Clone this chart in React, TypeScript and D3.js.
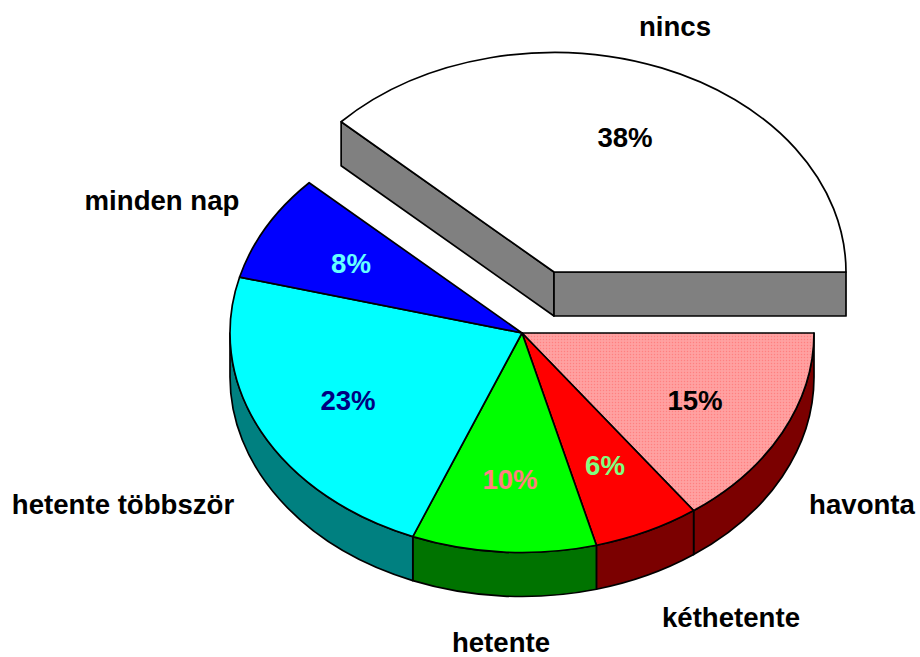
import React from "react";
import * as d3 from "d3";

const categories = ["havonta", "kéthetente", "hetente", "hetente többször", "minden nap", "nincs"];
const values = [15, 5.9, 10.2, 23, 7.9, 38];
const percentLabels = ["15%", "6%", "10%", "23%", "8%", "38%"];
const topColors = ["url(#dots)", "#ff0000", "#00ff00", "#00ffff", "#0000ff", "#ffffff"];
const wallColors = ["#7b0000", "#7b0000", "#007300", "#008080", "#00007b", "#808080"];
const percentColors = ["#000000", "#80ff80", "#ff8080", "#000080", "#66ffff", "#000000"];
const explodedIndex = 5;

const W = 920, H = 657;
const cx = 522, cy = 333, rx = 292, ry = 219.5, depth = 44;
const explodeDx = 32, explodeDy = -61;

// anchor points of the texts [x, y] (baseline centre)
const nameAt: [number, number][] = [[862, 514], [731, 627], [501, 652], [123, 514], [162, 210], [675, 36]];
const pctAt: [number, number][] = [[695, 410], [605, 475], [510, 489], [348, 410], [351, 273], [625, 147]];

const slices = d3.pie<number>().sort(null).startAngle(0).endAngle(2 * Math.PI)(values);
const X = d3.scaleLinear().domain([-1, 1]).range([-rx, rx]);
const Y = d3.scaleLinear().domain([-1, 1]).range([-ry, ry]);
const px = (a: number) => X(Math.cos(a));
const py = (a: number) => Y(Math.sin(a));

const arcTo = (a0: number, a1: number, dy = 0) => {
  const large = Math.abs(a1 - a0) > Math.PI ? 1 : 0;
  const sweep = a1 > a0 ? 1 : 0;
  return `A${rx},${ry} 0 ${large} ${sweep} ${px(a1)},${py(a1) + dy}`;
};
const topPath = (a0: number, a1: number) =>
  `M0,0L${px(a0)},${py(a0)}${arcTo(a0, a1)}Z`;
const outerWall = (a0: number, a1: number) =>
  `M${px(a0)},${py(a0)}${arcTo(a0, a1)}L${px(a1)},${py(a1) + depth}${arcTo(a1, a0, depth)}Z`;
const cutWall = (a: number) =>
  `M0,0L${px(a)},${py(a)}L${px(a)},${py(a) + depth}L0,${depth}Z`;

const stroke = { stroke: "#000", strokeWidth: 1.7, strokeLinejoin: "round" as const };
const font = { fontFamily: "'Liberation Sans', Arial, sans-serif", fontWeight: 700, fontSize: 27.6, textAnchor: "middle" as const };

export default function App() {
  const ex = slices[explodedIndex];
  return (
    <svg width={W} height={H} viewBox={`0 0 ${W} ${H}`} style={{ position: "absolute", left: 0, top: 0, background: "#fff" }}>
      <defs>
        <pattern id="dots" width="3" height="3" patternUnits="userSpaceOnUse">
          <rect width="3" height="3" fill="#ff9c9c" />
          <rect width="1" height="1" fill="#ff8080" />
          <rect x="1.5" y="1.5" width="1" height="1" fill="#ffb0b0" />
        </pattern>
      </defs>
      <g transform={`translate(${cx},${cy})`}>
        {slices.map((s, i) => {
          if (i === explodedIndex) return null;
          const a0 = Math.min(s.startAngle, Math.PI);
          const a1 = Math.min(s.endAngle, Math.PI);
          return a1 > a0 ? <path key={i} d={outerWall(a0, a1)} fill={wallColors[i]} {...stroke} /> : null;
        })}
        {slices.map((s, i) =>
          i === explodedIndex ? null : (
            <path key={i} d={topPath(s.startAngle, s.endAngle)} fill={topColors[i]} {...stroke} />
          )
        )}
      </g>
      <g transform={`translate(${cx + explodeDx},${cy + explodeDy})`}>
        <path d={cutWall(ex.startAngle)} fill={wallColors[explodedIndex]} {...stroke} />
        <path d={cutWall(ex.endAngle)} fill={wallColors[explodedIndex]} {...stroke} />
        <path d={topPath(ex.startAngle, ex.endAngle)} fill={topColors[explodedIndex]} {...stroke} />
      </g>
      {categories.map((c, i) => (
        <text key={c} x={nameAt[i][0]} y={nameAt[i][1]} fill="#000" {...font}>{c}</text>
      ))}
      {percentLabels.map((p, i) => (
        <text key={p} x={pctAt[i][0]} y={pctAt[i][1]} fill={percentColors[i]} {...font}>{p}</text>
      ))}
    </svg>
  );
}
